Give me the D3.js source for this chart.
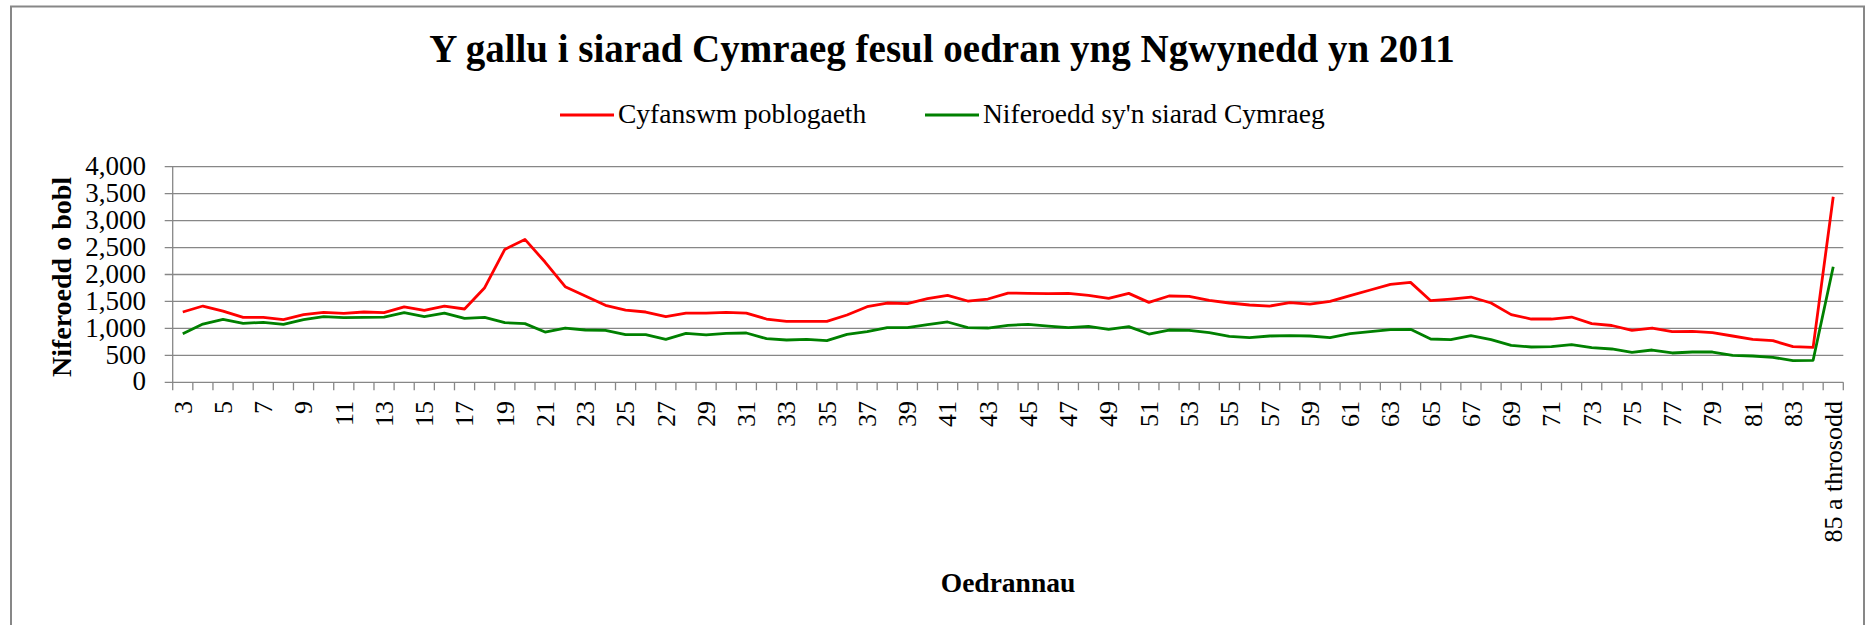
<!DOCTYPE html>
<html>
<head>
<meta charset="utf-8">
<script src="https://d3js.org/d3.v7.min.js"></script>
<style>
  body { margin: 0; background: #fff; }
  text { font-family: "Liberation Serif", serif; fill: #000; }
</style>
</head>
<body>
<div id="chart"></div>
<script>
var ages = ["3","4","5","6","7","8","9","10","11","12","13","14","15","16","17","18","19","20",
  "21","22","23","24","25","26","27","28","29","30","31","32","33","34","35","36","37","38","39","40",
  "41","42","43","44","45","46","47","48","49","50","51","52","53","54","55","56","57","58","59","60",
  "61","62","63","64","65","66","67","68","69","70","71","72","73","74","75","76","77","78","79","80",
  "81","82","83","84","85 a throsodd"];

var cyfanswm = [1304,1415,1322,1205,1205,1162,1255,1298,1279,1304,1292,1400,1335,1415,1360,1755,2466,2651,
  2231,1774,1601,1428,1341,1304,1217,1285,1285,1298,1285,1174,1131,1131,1131,1248,1403,1471,1458,1551,
  1613,1508,1545,1656,1650,1644,1650,1613,1557,1650,1483,1601,1594,1520,1471,1434,1415,1477,1452,1502,
  1607,1712,1817,1854,1514,1545,1582,1471,1255,1174,1174,1211,1088,1054,964,1007,939,945,921,859,
  797,773,661,649,3442];

var siaradCymraeg = [902,1081,1168,1094,1112,1075,1162,1217,1199,1205,1211,1292,1217,1285,1187,1205,1106,1088,
  933,1007,970,964,884,884,797,908,878,908,915,810,785,797,773,890,939,1014,1014,1069,
  1119,1014,1007,1057,1075,1044,1014,1038,983,1032,896,970,964,921,853,828,859,865,859,828,
  902,939,976,983,803,791,865,791,686,655,661,698,643,618,556,599,544,562,562,501,
  488,463,402,408,2145];

var yTicks = [0,500,1000,1500,2000,2500,3000,3500,4000];

var seriesNames = ["Cyfanswm poblogaeth", "Niferoedd sy'n siarad Cymraeg"];
var seriesColors = ["#ff0000", "#008000"];

(function() {
  var W = 1870, H = 625, grey = "#878787";
  var left = 172.7, right = 1843.3, top = 166.7, bottom = 382.3;

  var svg = d3.select("#chart").append("svg").attr("width", W).attr("height", H);

  // outer chart border (runs past the bottom edge in the original)
  svg.append("rect").attr("x", 11).attr("y", 6.5).attr("width", 1853).attr("height", 700)
    .attr("fill", "none").attr("stroke", grey).attr("stroke-width", 2);

  var x = d3.scaleBand().domain(ages).range([left, right]).paddingInner(0).paddingOuter(0);
  var y = d3.scaleLinear().domain([0, 4000]).range([bottom, top]);

  // gridlines + left tick marks
  svg.append("g").selectAll("line").data(yTicks).enter().append("line")
    .attr("x1", left - 8).attr("x2", right)
    .attr("y1", function(d) { return y(d); }).attr("y2", function(d) { return y(d); })
    .attr("stroke", grey).attr("stroke-width", 1.3);

  svg.append("line").attr("x1", left).attr("x2", left).attr("y1", top).attr("y2", bottom)
    .attr("stroke", grey).attr("stroke-width", 1.3);

  svg.append("g").selectAll("text").data(yTicks).enter().append("text")
    .attr("x", 146).attr("y", function(d) { return y(d) - 1; })
    .attr("dy", "0.34em").attr("text-anchor", "end").style("font-size", "27px")
    .text(d3.format(","));

  // x tick marks at category boundaries
  var bounds = ages.map(function(a) { return x(a); }).concat([right]);
  svg.append("g").selectAll("line").data(bounds).enter().append("line")
    .attr("x1", function(d) { return d; }).attr("x2", function(d) { return d; })
    .attr("y1", bottom).attr("y2", bottom + 8)
    .attr("stroke", grey).attr("stroke-width", 1.3);

  svg.append("g").selectAll("text").data(ages.filter(function(a, i) { return i % 2 === 0; }))
    .enter().append("text")
    .attr("transform", function(d) {
      return "translate(" + (x(d) + x.bandwidth() / 2) + ",401) rotate(-90)";
    })
    .attr("dy", "0.34em").attr("text-anchor", "end").style("font-size", "26px")
    .text(function(d) { return d; });

  var line = d3.line()
    .x(function(d, i) { return x(ages[i]) + x.bandwidth() / 2; })
    .y(function(d) { return y(d); });

  [cyfanswm, siaradCymraeg].forEach(function(s, i) {
    svg.append("path").datum(s).attr("d", line).attr("fill", "none")
      .attr("stroke", seriesColors[i]).attr("stroke-width", 2.8)
      .attr("stroke-linejoin", "round");
  });

  // titles
  svg.append("text").attr("x", 942).attr("y", 62).attr("text-anchor", "middle")
    .style("font-size", "39px").style("font-weight", "bold")
    .text("Y gallu i siarad Cymraeg fesul oedran yng Ngwynedd yn 2011");

  svg.append("text").attr("transform", "translate(71,277) rotate(-90)")
    .attr("text-anchor", "middle").style("font-size", "28px").style("font-weight", "bold")
    .text("Niferoedd o bobl");

  svg.append("text").attr("x", 1008).attr("y", 592).attr("text-anchor", "middle")
    .style("font-size", "27.5px").style("font-weight", "bold")
    .text("Oedrannau");

  // legend
  var legX = [560, 925];
  var leg = svg.append("g").selectAll("g").data(seriesNames).enter().append("g")
    .attr("transform", function(d, i) { return "translate(" + legX[i] + ",115)"; });
  leg.append("line").attr("x1", 0).attr("x2", 54).attr("y1", 0).attr("y2", 0)
    .attr("stroke", function(d, i) { return seriesColors[i]; }).attr("stroke-width", 2.8);
  leg.append("text").attr("x", 58).attr("y", 8).style("font-size", "27.5px")
    .text(function(d) { return d; });
})();
</script>
</body>
</html>
